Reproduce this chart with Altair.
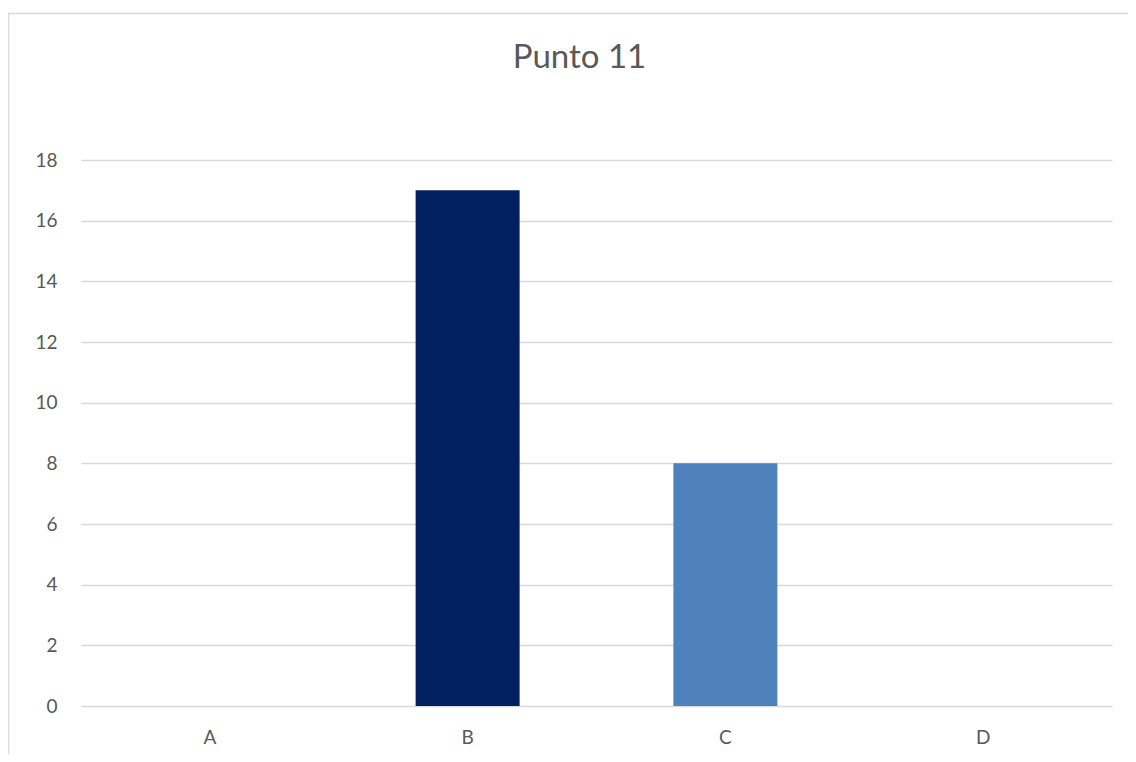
import altair as alt
import pandas as pd

categories = ["A", "B", "C", "D"]
values = [0, 17, 8, 0]
bar_colors = ["#4F81BD", "#002060", "#4F81BD", "#4F81BD"]
y_ticks = [0, 2, 4, 6, 8, 10, 12, 14, 16, 18]

df = pd.DataFrame({"cat": categories, "val": values})

FONT = "Lato"
GRAY = "#595959"
W, H = 1031, 546

bars = alt.Chart(df).mark_bar().encode(
    x=alt.X("cat:N", sort=categories,
            scale=alt.Scale(paddingInner=0.5965, paddingOuter=0.2983),
            axis=alt.Axis(title=None, labelAngle=0, ticks=False, domain=False,
                          labelFontSize=19, labelColor=GRAY, labelFont=FONT,
                          labelPadding=22)),
    y=alt.Y("val:Q", scale=alt.Scale(domain=[0, 18], nice=False),
            axis=alt.Axis(title=None, values=y_ticks, ticks=False, domain=False,
                          labelFontSize=19, labelColor=GRAY, labelFont=FONT,
                          labelPadding=24, gridColor="#D9D9D9", gridWidth=1.3)),
    color=alt.Color("cat:N", scale=alt.Scale(domain=categories, range=bar_colors),
                    legend=None),
)

border = alt.Chart(alt.Data(values=[{}])).mark_rect(
    fill=None, stroke="#D9D9D9", strokeWidth=1.5
).encode(
    x=alt.value(-72.5), x2=alt.value(W + 200),
    y=alt.value(-146.5), y2=alt.value(H + 300),
)

chart = alt.layer(border, bars).properties(
    width=W, height=H,
    title=alt.TitleParams("Punto 11", fontSize=33, font=FONT, color=GRAY,
                          fontWeight="normal", anchor="middle", frame="group",
                          dx=-17, offset=-62),
    autosize=alt.AutoSizeParams(type="none"),
    padding={"left": 73, "top": 152, "right": 16, "bottom": 48},
).configure_view(stroke=None)

chart.save("out.html", embed_options={"renderer": "svg", "actions": False})
